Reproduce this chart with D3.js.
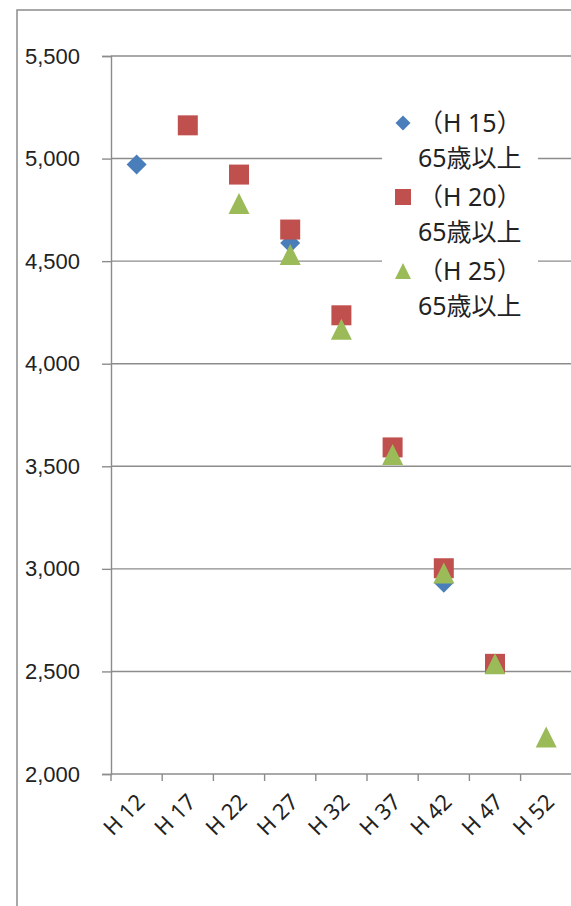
<!doctype html>
<html>
<head>
<meta charset="utf-8" />
<title>65歳以上 人口推計</title>
<script src="https://cdn.jsdelivr.net/npm/d3@7"></script>
<style>
  html,body{margin:0;background:#fff}
  body{width:571px;height:906px;overflow:hidden}
  svg{display:block;font-family:"Noto Sans","Noto Sans CJK JP",sans-serif}
  .grid line{stroke:#8c8c8c;stroke-width:1.4}
  .axis path,.axis line{stroke:#8c8c8c;stroke-width:1.4}
  .axis text{fill:#222;font-size:22px}
  .legend text{fill:#222;font-size:25px}
</style>
</head>
<body>
<svg id="chart" width="571" height="906"></svg>
<script>
// categories on the x axis
const years = ["H 12","H 17","H 22","H 27","H 32","H 37","H 42","H 47","H 52"];
const yTicks = [2000,2500,3000,3500,4000,4500,5000,5500];

// series (thousands); null = no point
const seriesNames = ["（H 15）","（H 20）","（H 25）"];
const h15 = [4971, null, null, 4588, null, null, 2932, null, null];
const h20 = [null, 5162, 4922, 4654, 4236, 3592, 3003, 2537, null];
const h25 = [null, null, 4781, 4532, 4168, 3558, 2980, 2537, 2180];

const colors = ["#4a7ebb","#c0504d","#9bbb59"];

// marker shapes, "size" = full width in px (excel-style markers, centred on bbox)
const diamond = {draw(c,s){const r=s/2;c.moveTo(0,-r);c.lineTo(r,0);c.lineTo(0,r);c.lineTo(-r,0);c.closePath();}};
const square  = {draw(c,s){const r=s/2;c.rect(-r,-r,s,s);}};
const triangle= {draw(c,s){const r=s/2;c.moveTo(0,-r);c.lineTo(r,r);c.lineTo(-r,r);c.closePath();}};
const shapes = [diamond, square, triangle];
const plotSizes = [20, 20, 21];
const legendSizes = [15, 16, 16];

const svg = d3.select("#chart");

// outer chart frame
svg.append("rect").attr("x",17).attr("y",10).attr("width",600).attr("height",920)
  .attr("fill","none").attr("stroke","#8c8c8c").attr("stroke-width",1.5);

const x = d3.scaleBand().domain(years).range([111, 111 + 9*51.2]);
const y = d3.scaleLinear().domain([2000,5500]).range([774,56]);

// horizontal gridlines
svg.append("g").attr("class","grid")
  .selectAll("line").data(yTicks.slice(1)).join("line")
  .attr("x1",x.range()[0]).attr("x2",x.range()[1])
  .attr("y1",d=>y(d)).attr("y2",d=>y(d));

// y axis
svg.append("g").attr("class","axis").attr("transform",`translate(${x.range()[0]},0)`)
  .call(d3.axisLeft(y).tickValues(yTicks).tickSize(9).tickPadding(22).tickFormat(d3.format(",")));

// x axis
const xAxis = svg.append("g").attr("class","axis").attr("transform",`translate(0,${y(2000)})`);
xAxis.append("line").attr("x1",x.range()[0]).attr("x2",x.range()[1]).attr("y1",0).attr("y2",0);
xAxis.selectAll(".tk").data(years).join("line").attr("class","tk")
  .attr("x1",d=>x(d)).attr("x2",d=>x(d)).attr("y1",0).attr("y2",7);
xAxis.selectAll(".lbl").data(years).join("text").attr("class","lbl")
  .attr("text-anchor","end")
  .attr("transform",d=>`translate(${x(d)+x.bandwidth()/2+4},${24}) rotate(-45)`)
  .attr("dy","0.35em")
  .text(d=>d);

// points
[h15,h20,h25].forEach((vals,i)=>{
  const pts = years.map((c,j)=>({c,v:vals[j]})).filter(p=>p.v!=null);
  svg.append("g").selectAll("path").data(pts).join("path")
    .attr("transform",p=>`translate(${x(p.c)+x.bandwidth()/2},${y(p.v)})`)
    .attr("d",d3.symbol().type(shapes[i]).size(plotSizes[i]))
    .attr("fill",colors[i]);
});

// legend
const lg = svg.append("g").attr("class","legend");
lg.append("rect").attr("x",382).attr("y",104).attr("width",156).attr("height",220).attr("fill","#fff");
seriesNames.forEach((name,i)=>{
  const top = 123 + i*74;
  lg.append("path").attr("transform",`translate(403,${top})`)
    .attr("d",d3.symbol().type(shapes[i]).size(legendSizes[i])).attr("fill",colors[i]);
  lg.append("text").attr("x",418).attr("y",top).attr("dy","0.35em").text(name);
  lg.append("text").attr("x",418).attr("y",top+35).attr("dy","0.35em").text("65歳以上");
});
</script>
</body>
</html>
